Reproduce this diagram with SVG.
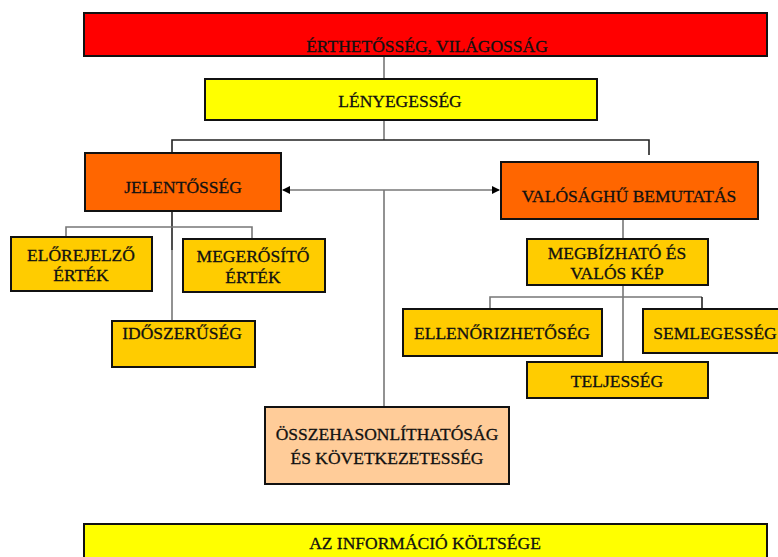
<svg xmlns="http://www.w3.org/2000/svg" width="778" height="557" viewBox="0 0 778 557">
<defs>
<marker id="ah" markerWidth="8" markerHeight="8" refX="7" refY="4" orient="auto" markerUnits="userSpaceOnUse">
<path d="M0,0 L8,4 L0,8 z" fill="#000"/>
</marker>
<style>
.box{stroke:#111;stroke-width:2}
.red{fill:#FF0000}.yel{fill:#FFFF00}.org{fill:#FF6600}.gold{fill:#FFCC00}.peach{fill:#FFCC99}
.t{font-family:"Liberation Serif","Times New Roman",serif;font-size:17.5px;fill:#111;stroke:#111;stroke-width:0.3;text-anchor:middle}
.c{fill:none;stroke:#777;stroke-width:1.6}
.k{fill:none;stroke:#222;stroke-width:1.6}
</style>
</defs>
<rect width="778" height="557" fill="#fff"/>
<g id="connectors">
<line class="c" x1="384" y1="56" x2="384" y2="79"/>
<line class="c" x1="384" y1="120" x2="384" y2="140"/>
<polyline class="k" points="172,153 172,140 649,140 649,155"/>
<line class="c" x1="384" y1="190" x2="384" y2="407"/>
<line class="c" x1="384" y1="190" x2="283" y2="190" marker-end="url(#ah)"/>
<line class="c" x1="384" y1="190" x2="499" y2="190" marker-end="url(#ah)"/>
<line class="k" x1="172" y1="211" x2="172" y2="250"/>
<line class="c" x1="172" y1="250" x2="172" y2="321"/>
<polyline class="c" points="66,237 66,227 252,227 252,239"/>
<line class="c" x1="623" y1="219" x2="623" y2="362"/>
<polyline class="c" points="490,310 490,297 702,297"/>
<line class="k" x1="702" y1="297" x2="702" y2="309"/>
</g>
<g id="n-erthetoseg">
<rect class="box red" x="84" y="13" width="683" height="43"/>
<text class="t" x="427" y="52">ÉRTHETŐSSÉG, VILÁGOSSÁG</text>
</g>
<g id="n-lenyegesseg">
<rect class="box yel" x="205" y="79" width="392" height="41"/>
<text class="t" x="400" y="107">LÉNYEGESSÉG</text>
</g>
<g id="n-jelentosseg">
<rect class="box org" x="85" y="153" width="196" height="58"/>
<text class="t" x="183" y="193">JELENTŐSSÉG</text>
</g>
<g id="n-valosaghu">
<rect class="box org" x="501" y="162" width="257" height="57"/>
<text class="t" x="629" y="202">VALÓSÁGHŰ BEMUTATÁS</text>
</g>
<g id="n-elorejelzo">
<rect class="box gold" x="11" y="237" width="141" height="54"/>
<text class="t" x="81" y="261">ELŐREJELZŐ</text>
<text class="t" x="81" y="281">ÉRTÉK</text>
</g>
<g id="n-megerosito">
<rect class="box gold" x="183" y="239" width="142" height="53"/>
<text class="t" x="253" y="262">MEGERŐSÍTŐ</text>
<text class="t" x="253" y="283">ÉRTÉK</text>
</g>
<g id="n-idoszeruseg">
<rect class="box gold" x="112" y="321" width="143" height="46"/>
<text class="t" x="182" y="339">IDŐSZERŰSÉG</text>
</g>
<g id="n-megbizhato">
<rect class="box gold" x="527" y="239" width="181" height="46"/>
<text class="t" x="617" y="259">MEGBÍZHATÓ ÉS</text>
<text class="t" x="617" y="279">VALÓS KÉP</text>
</g>
<g id="n-ellenorizhetoseg">
<rect class="box gold" x="403" y="309" width="199" height="47"/>
<text class="t" x="502" y="339">ELLENŐRIZHETŐSÉG</text>
</g>
<g id="n-semlegesseg">
<rect class="box gold" x="643" y="309" width="140" height="44"/>
<text class="t" x="715" y="339">SEMLEGESSÉG</text>
</g>
<g id="n-teljesseg">
<rect class="box gold" x="527" y="362" width="181" height="36"/>
<text class="t" x="617" y="387">TELJESSÉG</text>
</g>
<g id="n-osszehasonlithatosag">
<rect class="box peach" x="265" y="407" width="244" height="77"/>
<text class="t" x="387" y="440">ÖSSZEHASONLÍTHATÓSÁG</text>
<text class="t" x="387" y="464">ÉS KÖVETKEZETESSÉG</text>
</g>
<g id="n-koltseg">
<rect class="box yel" x="84" y="524" width="683" height="40"/>
<text class="t" x="425" y="549">AZ INFORMÁCIÓ KÖLTSÉGE</text>
</g>
</svg>
